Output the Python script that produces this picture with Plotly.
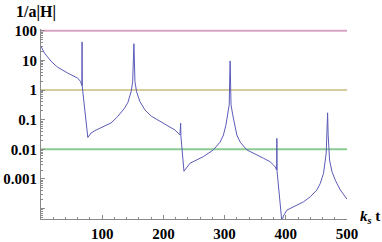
import plotly.graph_objects as go

# curve samples
t_vals = [0, 5.5, 16.4, 27, 43.7, 60, 64.5, 66.8, 67.1, 67.5, 76.5, 81.9, 90, 103.8, 114.6,
          125.6, 136.5, 142, 147.4, 149.8, 151.8, 153.5, 156.2, 161.6, 169.8, 180, 197, 210,
          218.9, 224.3, 227, 228.2, 228.6, 233.6, 243.4, 265, 281.6, 292.6, 298, 302, 305,
          307.5, 309, 310.5, 313.3, 316.5, 320, 325.5, 336.3, 363.5, 374.4, 379.8, 382.6,
          385, 385.4, 385.8, 393.6, 396, 401.8, 429, 440, 450.9, 456.3, 461.7, 466, 467.5,
          468.3, 469.2, 471.5, 475.4, 480.8, 489, 498.8, 500]
h_vals = [29.5, 17.8, 9.33, 5.89, 3.72, 2.51, 1.95, 1.41, 41.7, 1.26, 0.0251, 0.0355, 0.0447,
          0.0603, 0.0776, 0.129, 0.245, 0.380, 0.912, 1.91, 36.3, 1.91, 0.871, 0.407, 0.214,
          0.132, 0.0813, 0.0562, 0.0447, 0.0347, 0.0302, 0.0759, 0.0282, 0.00182, 0.00339,
          0.00562, 0.00955, 0.0174, 0.0302, 0.0631, 0.145, 0.316, 9.55, 0.316, 0.145, 0.0631,
          0.0302, 0.0174, 0.00955, 0.00501, 0.0038, 0.00295, 0.00257, 0.002, 0.0234, 0.00178,
          0.0000355, 0.0000562, 0.0000891, 0.00017, 0.000251, 0.000427, 0.000708, 0.00155,
          0.00741, 0.0316, 0.17, 0.0316, 0.00437, 0.00178, 0.000912, 0.000427, 0.000224,
          0.000209]

ref_levels = [100, 1, 0.01]
ref_colors = ["#D9A3C2", "#D6CD9C", "#8ACB92"]
x_span = [0, 500]

y_tickvals = [100, 10, 1, 0.1, 0.01, 0.001, 0.0001]
y_ticktext = ["100", "10", "1", "0.1", "0.01", "0.001", " "]
x_tickvals = [100, 200, 300, 400, 500]
x_ticktext = ["100", "200", "300", "400", "500"]

y_minor = [m * 10.0 ** k for k in range(-5, 3) for m in range(2, 10)]
x_minor = list(range(0, 501, 20))

fig = go.Figure()
for lvl, col in zip(ref_levels, ref_colors):
    fig.add_trace(go.Scatter(x=x_span, y=[lvl, lvl], mode="lines",
                             line=dict(color=col, width=2), hoverinfo="skip"))
fig.add_trace(go.Scatter(x=t_vals, y=h_vals, mode="lines",
                         line=dict(color="#5B5BB8", width=1)))

serif = "Liberation Serif, Times New Roman, serif"
axis_col = "#8a8a8a"
tfont = dict(family=serif, size=15, color="black", weight=700)
fig.update_layout(
    width=382, height=242, showlegend=False,
    margin=dict(l=41, r=35, t=29, b=23),
    plot_bgcolor="white", paper_bgcolor="white",
    font=dict(family=serif, size=15, color="black"),
    xaxis=dict(range=[0, 500], showgrid=False, zeroline=False, showline=True,
               automargin=False,
               linecolor=axis_col, linewidth=1, ticks="inside", ticklen=4,
               tickcolor=axis_col, tickvals=x_tickvals, ticktext=x_ticktext,
               tickfont=tfont, ticklabelstandoff=1,
               minor=dict(tickvals=x_minor, ticks="inside", ticklen=2,
                          tickcolor=axis_col, showgrid=False)),
    yaxis=dict(type="log", range=[-4.35, 2.057], showgrid=False, zeroline=False,
               showline=True, automargin=False, linecolor=axis_col, linewidth=1,
               ticks="inside", ticklen=4, tickcolor=axis_col, tickvals=y_tickvals,
               ticktext=y_ticktext, tickfont=tfont,
               minor=dict(tickvals=y_minor, ticks="inside", ticklen=2,
                          tickcolor=axis_col, showgrid=False)),
    annotations=[
        dict(text="1/a|H|", xref="paper", yref="paper", x=-0.017, y=1.09,
             xanchor="center", yanchor="middle", showarrow=False,
             font=dict(family=serif, size=16, color="black", weight=700)),
        dict(text="<i>k</i><sub><i>s</i></sub> t", xref="paper", yref="paper",
             x=1.1156, y=0.012, xanchor="right", yanchor="middle", showarrow=False,
             font=dict(family=serif, size=15, color="black", weight=700)),
    ],
)

fig.write_html("out.html", config={"displayModeBar": False},
               post_script="document.body.style.margin='0px';document.body.style.overflow='hidden';")
